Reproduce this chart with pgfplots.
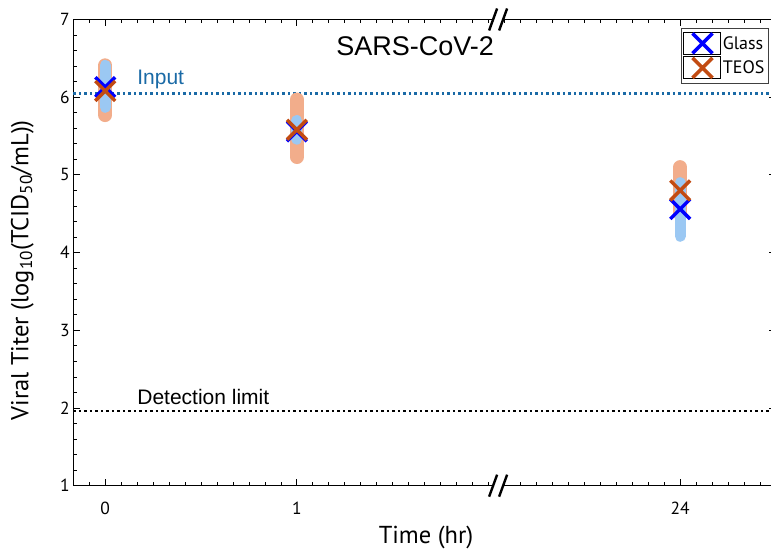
\documentclass[border=0pt]{standalone}
\usepackage{fontspec}
\usepackage{pgfplots}
\pgfplotsset{compat=1.18}
\setmainfont{PT Sans}
\newfontfamily\hel{Liberation Sans}
\definecolor{lblue}{HTML}{9BC8F3}
\definecolor{lorange}{HTML}{F2AD8B}
\definecolor{mblue}{HTML}{0000FF}
\definecolor{morange}{HTML}{C24B12}
\definecolor{inblue}{HTML}{1A6AA6}
\begin{document}
\begin{tikzpicture}
\useasboundingbox (0pt,0pt) rectangle (771pt,554pt);
\clip (0pt,0pt) rectangle (771pt,554pt);
\begin{axis}[
  at={(73.3pt,68.3pt)}, anchor=south west,
  scale only axis, width=702.7pt, height=466.2pt,
  xmin=-2, xmax=42, ymin=1, ymax=7,
  clip=false,
  axis line style={black, line width=0.8pt},
  xtick={0,12,36}, xticklabels={0,1,24},
  minor xtick={-1,1,2,3,4,5,6,7,8,9,10,11,13,14,15,16,17,18,19,20,21,22,23,24,25,26,27,28,29,30,31,32,33,34,35,37,38,39,40,41},
  ytick={1,2,3,4,5,6,7},
  minor y tick num=4,
  tick align=inside,
  major tick length=7pt, minor tick length=3.5pt,
  every tick/.style={black, line width=0.8pt},
  /pgf/number format/assume math mode=true,
  ticklabel style={font=\fontsize{17.5}{17.5}\selectfont},
  xticklabel style={yshift=-13pt},
  xlabel={Time (hr)},
  ylabel={Viral Titer (log\textsubscript{10}(TCID\textsubscript{50}/mL))},
  label style={font=\fontsize{24.5}{24.5}\selectfont},
  xlabel style={at={(axis description cs:0.502,-0.1115)}, anchor=center},
  ylabel style={at={(axis description cs:-0.0726,0.462)}, anchor=center},
  legend style={at={(axis description cs:0.8644,0.9824)}, anchor=north west,
    draw=black!75, line width=0.8pt, inner xsep=2pt, inner ysep=3.5pt,
    font=\fontsize{18}{18}\selectfont, row sep=1pt,
    cells={anchor=west}},
]
% reference lines
\addplot[forget plot, color=inblue, line width=2.5pt, dash pattern=on 2.5pt off 3pt] coordinates {(-2,6.05) (42,6.05)};
\addplot[forget plot, color=black, line width=2.5pt, dash pattern=on 2.5pt off 3pt] coordinates {(-2,1.96) (42,1.96)};
% TEOS ranges
\addplot[forget plot, draw=lorange, line width=14pt, line cap=round] coordinates {(0,5.77) (0,6.41)};
\addplot[forget plot, draw=lorange, line width=14pt, line cap=round] coordinates {(12,5.23) (12,5.97)};
\addplot[forget plot, draw=lorange, line width=14pt, line cap=round] coordinates {(36,4.50) (36,5.10)};
% Glass ranges
\addplot[forget plot, draw=lblue, line width=11pt, line cap=round] coordinates {(0,5.87) (0,6.41)};
\addplot[forget plot, draw=lblue, line width=11pt, line cap=round] coordinates {(12,5.46) (12,5.70)};
\addplot[forget plot, draw=lblue, line width=11pt, line cap=round] coordinates {(36,4.21) (36,4.90)};
% means
\addplot[forget plot, only marks, mark=x, mark size=14pt, color=mblue, line width=3.5pt] coordinates {(0,6.13) (12,5.56) (36,4.56)};
\addplot[forget plot, only marks, mark=x, mark size=14pt, color=morange, line width=3.5pt] coordinates {(0,6.08) (12,5.58) (36,4.80)};
\addlegendimage{legend image code/.code={\path (0pt,-11pt) rectangle (37pt,11pt); \draw[mblue, line width=3.5pt] (9pt,-10pt) -- (29pt,10pt) (9pt,10pt) -- (29pt,-10pt);}}
\addlegendentry{Glass}
\addlegendimage{legend image code/.code={\path (0pt,-11pt) rectangle (37pt,11pt); \draw[morange, line width=3.5pt] (9pt,-10pt) -- (29pt,10pt) (9pt,10pt) -- (29pt,-10pt);}}
\addlegendentry{TEOS}
% annotations
\node[anchor=base west, font=\hel\fontsize{21}{21}\selectfont, text=inblue, inner sep=0pt] at (axis cs:2.0,6.16) {Input};
\node[anchor=base west, font=\hel\fontsize{21}{21}\selectfont, inner sep=0pt] at (axis cs:2.0,2.04) {Detection limit};
\node[anchor=center, font=\hel\fontsize{27}{27}\selectfont, inner sep=0pt] at (axis cs:19.4,6.65) {SARS-CoV-2};
\coordinate (btop) at (axis cs:24.6,7);
\coordinate (bbot) at (axis cs:24.6,1);
\end{axis}
\foreach \c in {btop,bbot}{
  \fill[white] ([xshift=-7pt,yshift=-3pt]\c) -- ([xshift=2pt,yshift=-3pt]\c) -- ([xshift=7pt,yshift=3pt]\c) -- ([xshift=-2pt,yshift=3pt]\c) -- cycle;
  \draw[black, line width=2.4pt] ([xshift=-9pt,yshift=-11pt]\c) -- ([xshift=-1pt,yshift=11pt]\c);
  \draw[black, line width=2.4pt] ([xshift=1pt,yshift=-11pt]\c) -- ([xshift=9pt,yshift=11pt]\c);
}
\end{tikzpicture}
\end{document}
